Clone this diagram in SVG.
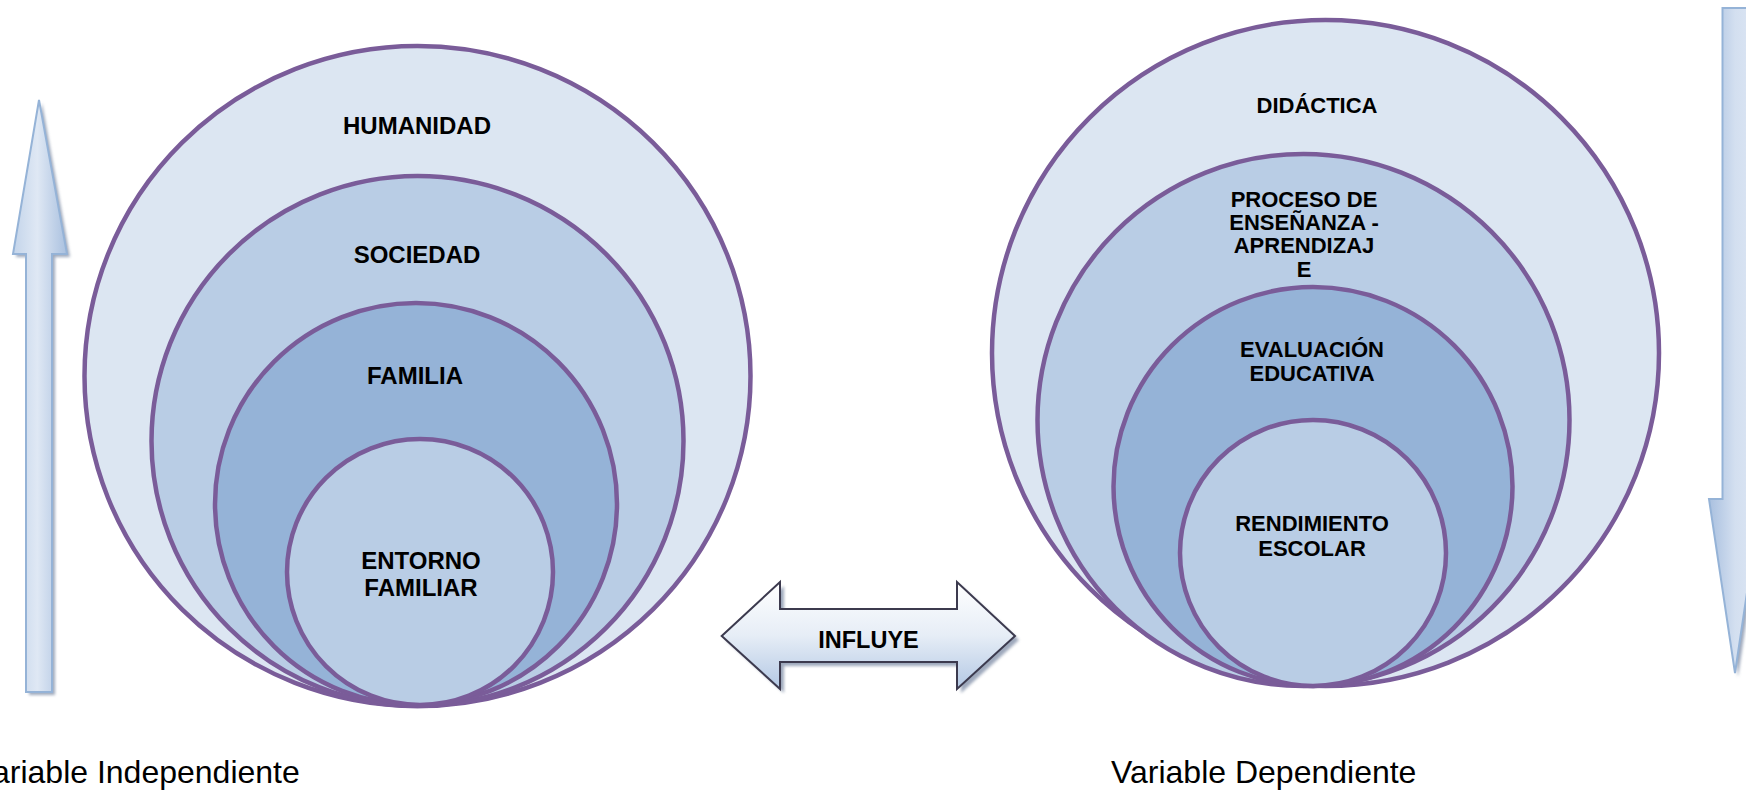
<svg xmlns="http://www.w3.org/2000/svg" width="1746" height="790" viewBox="0 0 1746 790">
<defs>
<style>
.c1{fill:#dce6f2;stroke:#7a5c99;stroke-width:4.5}
.c2{fill:#b9cde5;stroke:#7a5c99;stroke-width:4.5}
.c3{fill:#95b3d7;stroke:#7a5c99;stroke-width:4.5}
.lbl{font-family:"Liberation Sans",Arial,sans-serif;font-weight:bold;fill:#000;text-anchor:middle}
.l24{font-size:24px}
.l22{font-size:22px}
.cap{font-family:"Liberation Sans",Arial,sans-serif;font-size:32px;fill:#000}
.varrow{stroke:#95b3d7;stroke-width:2}
.shadow{fill:#8d9ab0;opacity:0.85}
</style>
<linearGradient id="gUp" x1="0" y1="0" x2="1" y2="0">
<stop offset="0" stop-color="#c3d4ea"/>
<stop offset="0.45" stop-color="#dfe8f4"/>
<stop offset="1" stop-color="#a9c0df"/>
</linearGradient>
<linearGradient id="gDown" x1="0" y1="0" x2="1" y2="0">
<stop offset="0" stop-color="#a9c0df"/>
<stop offset="0.5" stop-color="#d3dff0"/>
<stop offset="1" stop-color="#dfe8f4"/>
</linearGradient>
<linearGradient id="gDbl" x1="0" y1="0" x2="0" y2="1">
<stop offset="0" stop-color="#ffffff"/>
<stop offset="0.5" stop-color="#e6edf6"/>
<stop offset="1" stop-color="#b3c8e4"/>
</linearGradient>
<filter id="blur" x="-10%" y="-10%" width="120%" height="120%">
<feGaussianBlur stdDeviation="1.5"/>
</filter>
</defs>
<rect width="1746" height="790" fill="#ffffff"/>

<g id="left-circles">
<g id="humanidad"><ellipse class="c1" cx="417.5" cy="376" rx="333" ry="330"/><text class="lbl l24" x="417" y="134">HUMANIDAD</text></g>
<g id="sociedad"><ellipse class="c2" cx="417.5" cy="441" rx="266" ry="265"/><text class="lbl l24" x="417" y="263">SOCIEDAD</text></g>
<g id="familia"><circle class="c3" cx="416" cy="504" r="201"/><text class="lbl l24" x="415" y="384">FAMILIA</text></g>
<g id="entorno"><circle class="c2" cx="420" cy="572" r="133"/><text class="lbl l24" x="421" y="569">ENTORNO</text><text class="lbl l24" x="421" y="596">FAMILIAR</text></g>
</g>

<g id="right-circles">
<g id="didactica"><ellipse class="c1" cx="1325.5" cy="353" rx="333.5" ry="333"/><text class="lbl l22" x="1317" y="113">DIDÁCTICA</text></g>
<g id="proceso"><circle class="c2" cx="1303.5" cy="420" r="266"/><text class="lbl l22" x="1304" y="207">PROCESO DE</text><text class="lbl l22" x="1304" y="230">ENSEÑANZA -</text><text class="lbl l22" x="1304" y="253">APRENDIZAJ</text><text class="lbl l22" x="1304" y="277">E</text></g>
<g id="evaluacion"><circle class="c3" cx="1313" cy="486.5" r="199.5"/><text class="lbl l22" x="1312" y="357">EVALUACIÓN</text><text class="lbl l22" x="1312" y="381">EDUCATIVA</text></g>
<g id="rendimiento"><circle class="c2" cx="1313" cy="553" r="133"/><text class="lbl l22" x="1312" y="531">RENDIMIENTO</text><text class="lbl l22" x="1312" y="556">ESCOLAR</text></g>
</g>

<g id="connectors">
<g id="arrow-up">
<polygon class="shadow" filter="url(#blur)" points="42,103 70,257 55,257 55,695 29,695 29,257 16,257"/>
<polygon class="varrow" fill="url(#gUp)" points="39,100 67,254 52,254 52,692 26,692 26,254 13,254"/>
</g>
<g id="arrow-down">
<polygon class="shadow" filter="url(#blur)" points="1725,11 1751,11 1751,502 1764,502 1738,677 1712,502 1725,502"/>
<polygon class="varrow" fill="url(#gDown)" points="1722.5,8 1748,8 1748,499 1761,499 1735,673 1709,499 1722.5,499"/>
</g>
<g id="influye">
<polygon class="shadow" filter="url(#blur)" points="725.7,640 784,586 784,613 961,613 961,586 1019,640 961,693 961,666 784,666 784,693"/>
<polygon fill="url(#gDbl)" stroke="#3c3a4e" stroke-width="2" stroke-linejoin="miter" points="721.7,636 780,582 780,609 957,609 957,582 1015,636 957,689 957,662 780,662 780,689"/>
<text class="lbl" style="font-size:23.5px" x="868.5" y="648">INFLUYE</text>
</g>
</g>

<text class="cap" x="-27" y="783">Variable Independiente</text>
<text class="cap" x="1111" y="783">Variable Dependiente</text>
</svg>
